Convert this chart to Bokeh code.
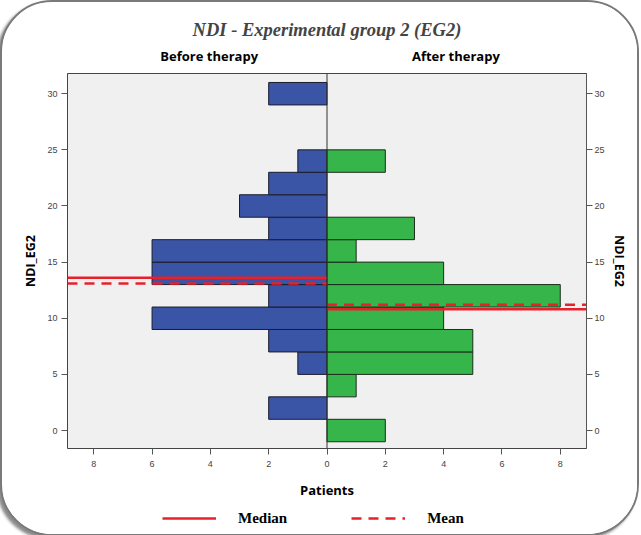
from bokeh.plotting import figure
from bokeh.layouts import column
from bokeh.models import Legend, LegendItem, LinearAxis, Span, FixedTicker
from bokeh.embed import file_html
from bokeh.resources import INLINE

# ---- data ----
bins = [0, 2, 4, 6, 8, 10, 12, 14, 16, 18, 20, 22, 24, 26, 28, 30]
before_counts = [0, 2, 0, 1, 2, 6, 2, 6, 6, 2, 3, 2, 1, 0, 0, 2]
after_counts = [2, 0, 1, 5, 5, 4, 8, 4, 1, 3, 0, 0, 2, 0, 0, 0]
bin_width = 2
before_median, before_mean = 13.6, 13.1
after_median, after_mean = 10.8, 11.2
x_ticks = [-8, -6, -4, -2, 0, 2, 4, 6, 8]
y_ticks = [0, 5, 10, 15, 20, 25, 30]
title_text = "NDI - Experimental group 2 (EG2)"
side_titles = {-4.04: "Before therapy", 4.42: "After therapy"}
legend_labels = ["Median", "Mean"]

X_MIN, X_MAX = -8.9, 8.9
Y_MIN, Y_MAX = -1.6, 31.8

BLUE = "#3A54A6"
GREEN = "#35B54A"
RED = "#E8202A"
DASH = "10 7"
NAN = float("nan")

p = figure(frame_width=519, frame_height=375,
           x_range=(X_MIN, X_MAX), y_range=(Y_MIN, Y_MAX),
           output_backend="svg", toolbar_location=None,
           min_border_left=65, min_border_top=71, min_border_right=51, min_border_bottom=55)

p.background_fill_color = "#F0F0F0"
p.border_fill_color = "white"
p.outline_line_color = "#444444"
p.outline_line_width = 1
p.xgrid.visible = False
p.ygrid.visible = False

p.title.text = title_text
p.title.align = "center"
p.title.text_font = "Liberation Serif"
p.title.text_font_style = "bold italic"
p.title.text_font_size = "18.5px"
p.title.standoff = 7

# bars
b_y = [b for b, c in zip(bins, before_counts) if c > 0]
b_l = [-c for c in before_counts if c > 0]
a_y = [b for b, c in zip(bins, after_counts) if c > 0]
a_r = [c for c in after_counts if c > 0]
p.hbar(y=b_y, left=b_l, right=0, height=bin_width, fill_color=BLUE,
       line_color="#1c1c2c", line_width=1)
p.hbar(y=a_y, left=0, right=a_r, height=bin_width, fill_color=GREEN,
       line_color="#1c2c1c", line_width=1)

p.add_layout(Span(location=0, dimension="height", line_color="#333333", line_width=1))

# median / mean lines
p.line([X_MIN, 0], [before_median] * 2, line_color=RED, line_width=2.5)
p.line([X_MIN, 0], [before_mean] * 2, line_color=RED, line_width=2.5, line_dash=DASH)
p.line([0, X_MAX], [after_median] * 2, line_color=RED, line_width=2.5)
p.line([0, X_MAX], [after_mean] * 2, line_color=RED, line_width=2.5, line_dash=DASH)

tick_font = "Liberation Sans"


def style_axis(ax):
    ax.major_label_text_font = tick_font
    ax.major_label_text_font_size = "9px"
    ax.major_label_text_color = "#444444"
    ax.major_tick_out = 6
    ax.major_tick_in = 0
    ax.minor_tick_line_color = None
    ax.axis_line_color = None
    ax.major_tick_line_color = "#555555"
    ax.axis_label_text_font = "Open Sans"
    ax.axis_label_text_font_style = "bold"
    ax.axis_label_text_color = "black"


style_axis(p.xaxis[0])
style_axis(p.yaxis[0])

p.xaxis.ticker = FixedTicker(ticks=x_ticks)
p.xaxis.major_label_overrides = {t: str(abs(t)) for t in x_ticks}
p.xaxis.axis_label = "Patients"
p.xaxis.axis_label_text_font_size = "13px"
p.xaxis.axis_label_standoff = 11
p.xaxis.major_label_standoff = 6

p.yaxis.ticker = FixedTicker(ticks=y_ticks)
p.yaxis.axis_label = "NDI_EG2"
p.yaxis.axis_label_text_font_size = "12.5px"
p.yaxis.axis_label_standoff = 5
p.yaxis.major_label_standoff = 4

ry = LinearAxis(ticker=FixedTicker(ticks=y_ticks), axis_label="NDI_EG2")
style_axis(ry)
ry.axis_line_color = "#555555"
ry.major_label_standoff = 2
ry.axis_label_text_font_size = "12.5px"
ry.axis_label_standoff = 3
p.add_layout(ry, "right")

top = LinearAxis(ticker=FixedTicker(ticks=list(side_titles.keys())),
                 major_label_overrides=side_titles)
top.axis_line_color = None
top.major_tick_line_color = None
top.minor_tick_line_color = None
top.major_label_standoff = 3
top.major_label_text_font = "Open Sans"
top.major_label_text_font_style = "bold"
top.major_label_text_font_size = "13px"
top.major_label_text_color = "black"
p.add_layout(top, "above")

# ---- legend strip below the chart ----
q = figure(width=635, height=31, x_range=(0, 1), y_range=(0, 1),
           output_backend="svg", toolbar_location=None,
           x_axis_location=None, y_axis_location=None,
           min_border=0)
q.outline_line_color = None
q.xgrid.visible = False
q.ygrid.visible = False
q.border_fill_color = "white"
q.background_fill_color = "white"
r_med = q.line([NAN, NAN], [NAN, NAN], line_color=RED, line_width=2.5)
r_mean = q.line([NAN, NAN], [NAN, NAN], line_color=RED, line_width=2.5, line_dash=DASH)
legend = Legend(items=[LegendItem(label=legend_labels[0], renderers=[r_med]),
                       LegendItem(label=legend_labels[1], renderers=[r_mean])],
                location=(95, 7), orientation="horizontal",
                glyph_width=54, glyph_height=18, label_standoff=22, spacing=64,
                padding=0, margin=0, border_line_color=None,
                background_fill_alpha=0,
                label_text_font="Liberation Serif", label_text_font_style="bold",
                label_text_font_size="15px", label_text_color="black")
q.add_layout(legend, "center")

layout = column(p, q, spacing=0)
layout.styles = {"border": "2px solid #7a7a7a", "border-radius": "52px",
                 "box-shadow": "-3px 3px 3px #8a8a8a", "overflow": "hidden",
                 "background": "white"}

open("out.html", "w").write(file_html(layout, INLINE))
